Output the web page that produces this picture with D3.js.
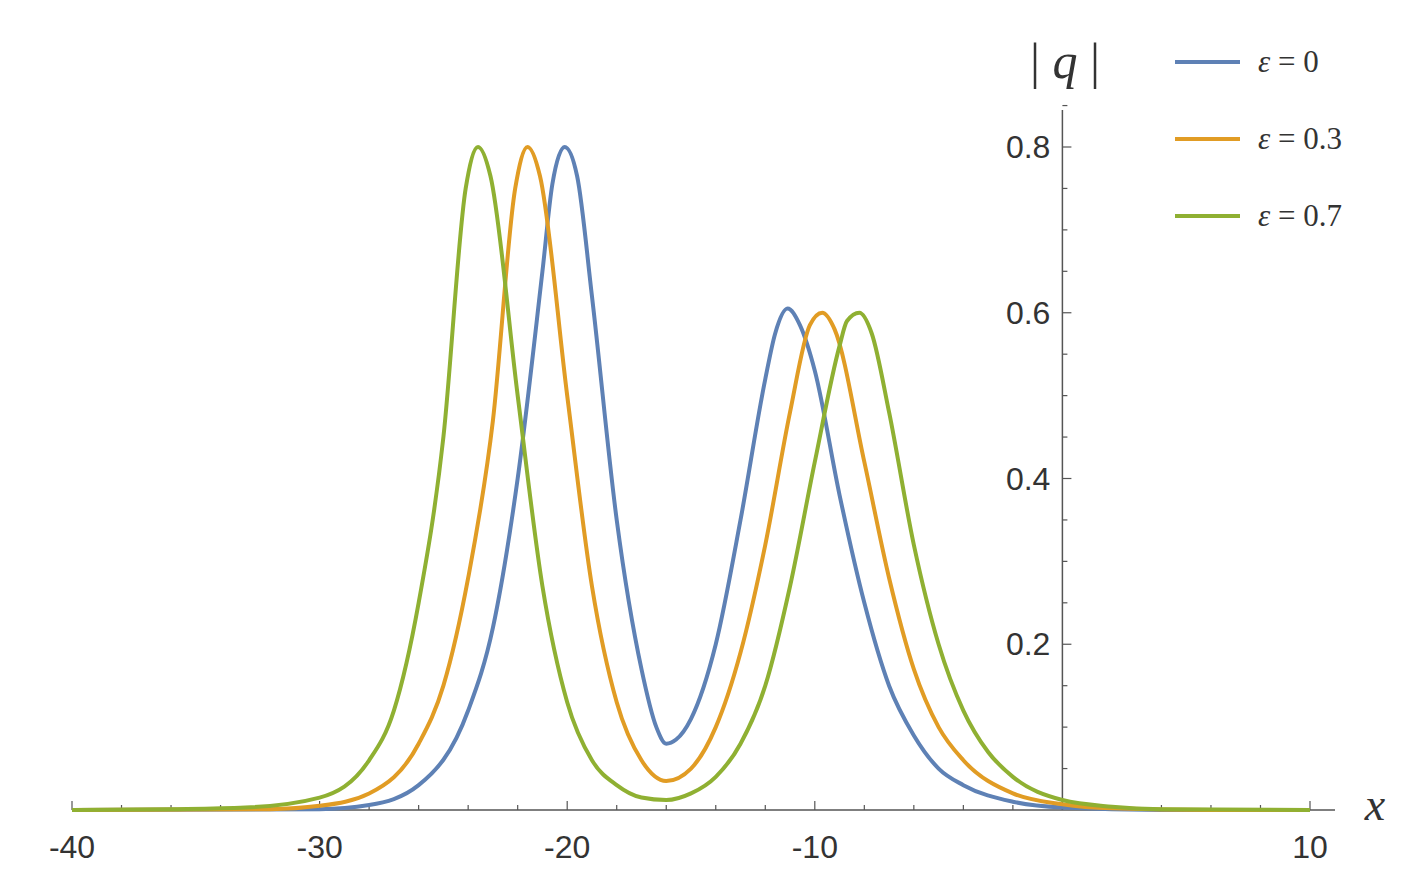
<!DOCTYPE html>
<html><head><meta charset="utf-8">
<script src="https://cdn.jsdelivr.net/npm/d3@7"></script>
<style>body{margin:0;background:#fff}</style></head>
<body><svg id="c" width="1401" height="891"></svg>
<script>
const xTicks=[-40,-30,-20,-10,10];
const yTicks=[0.2,0.4,0.6,0.8];
const legendLabels=["ε = 0","ε = 0.3","ε = 0.7"];
const colors=["#5e81b5","#e19c24","#8fb032"];
const blue=[[-40,0],[-30,0.001],[-28,0.006],[-26,0.03],[-24,0.12],[-23,0.22],[-22,0.4],[-21,0.65],[-20.6,0.755],[-20.1,0.8],[-19.6,0.765],[-19,0.62],[-18,0.35],[-17,0.17],[-16.4,0.1],[-16,0.08],[-15.6,0.085],[-15,0.11],[-14,0.2],[-13,0.35],[-12,0.52],[-11.6,0.575],[-11.1,0.605],[-10.6,0.585],[-10,0.53],[-9,0.38],[-8,0.25],[-7,0.15],[-6,0.09],[-5,0.05],[-4,0.03],[-2,0.01],[0,0.003],[4,0],[10,0]];
const orange=[[-40,0],[-32,0.001],[-30,0.005],[-28,0.02],[-26,0.08],[-25,0.15],[-24,0.28],[-23,0.47],[-22.1,0.75],[-21.6,0.8],[-21.1,0.765],[-20,0.5],[-19,0.27],[-18,0.13],[-17,0.06],[-16,0.035],[-15,0.05],[-14,0.1],[-13,0.19],[-12,0.32],[-11,0.48],[-10.2,0.585],[-9.7,0.6],[-9.2,0.58],[-8,0.42],[-7,0.28],[-6,0.17],[-5,0.1],[-4,0.06],[-2,0.02],[0,0.007],[2,0.002],[6,0],[10,0]];
const green=[[-40,0],[-36,0.001],[-33,0.003],[-30,0.015],[-28,0.06],[-27,0.12],[-26,0.25],[-25,0.45],[-24.1,0.75],[-23.6,0.8],[-23.1,0.765],[-22,0.5],[-21,0.27],[-20,0.13],[-19,0.06],[-18,0.03],[-17,0.015],[-16,0.012],[-15,0.02],[-14,0.04],[-13,0.08],[-12,0.15],[-11,0.27],[-10,0.42],[-9,0.56],[-8.7,0.59],[-8.2,0.6],[-7.7,0.575],[-7,0.48],[-6,0.32],[-5,0.2],[-4,0.12],[-3,0.07],[-2,0.04],[0,0.012],[2,0.004],[4,0.001],[10,0]];
const series=[blue,orange,green];
const svg=d3.select("#c");
const x=d3.scaleLinear().domain([-40,10]).range([72,1310]);
const y=d3.scaleLinear().domain([0,0.8]).range([810,147]);
const ax="#555";
svg.append("line").attr("x1",x(-40)).attr("x2",1335).attr("y1",y(0)).attr("y2",y(0)).attr("stroke",ax).attr("stroke-width",1.5);
d3.range(-40,10.01,2).forEach(v=>{const major=v%10===0;svg.append("line").attr("x1",x(v)).attr("x2",x(v)).attr("y1",y(0)).attr("y2",y(0)-(major?9:5)).attr("stroke",ax).attr("stroke-width",1.2);});
xTicks.forEach(v=>svg.append("text").attr("x",x(v)).attr("y",858).attr("text-anchor","middle").attr("font-family","Liberation Sans").attr("font-size",32).attr("fill","#333").text(v));
svg.append("line").attr("x1",x(0)).attr("x2",x(0)).attr("y1",110).attr("y2",y(0)).attr("stroke",ax).attr("stroke-width",1.5);
d3.range(0.05,0.86,0.05).forEach(v=>{const major=Math.abs(v*5-Math.round(v*5))<1e-6;svg.append("line").attr("x1",x(0)).attr("x2",x(0)+(major?9:5)).attr("y1",y(v)).attr("y2",y(v)).attr("stroke",ax).attr("stroke-width",1.2);});
yTicks.forEach(v=>svg.append("text").attr("x",x(0)-12).attr("y",y(v)+11).attr("text-anchor","end").attr("font-family","Liberation Sans").attr("font-size",32).attr("fill","#333").text(v.toFixed(1)));
svg.append("text").attr("x",1065).attr("y",78).attr("text-anchor","middle").attr("font-family","Liberation Serif").attr("font-size",50).attr("fill","#333").html('| <tspan font-style="italic">q</tspan> |');
svg.append("text").attr("x",1375).attr("y",820).attr("text-anchor","middle").attr("font-family","Liberation Serif").attr("font-style","italic").attr("font-size",46).attr("fill","#333").text("x");
const line=d3.line().x(d=>x(d[0])).y(d=>y(d[1])).curve(d3.curveMonotoneX);
series.forEach((s,i)=>svg.append("path").attr("d",line(s)).attr("fill","none").attr("stroke",colors[i]).attr("stroke-width",4).attr("stroke-linejoin","round"));
legendLabels.forEach((t,i)=>{const ly=62+i*77;
svg.append("line").attr("x1",1175).attr("x2",1240).attr("y1",ly).attr("y2",ly).attr("stroke",colors[i]).attr("stroke-width",4);
svg.append("text").attr("x",1258).attr("y",ly+10).attr("font-family","Liberation Serif").attr("font-size",31).attr("fill","#333").html('<tspan font-style="italic">ε</tspan>'+t.slice(1));});
</script></body></html>
